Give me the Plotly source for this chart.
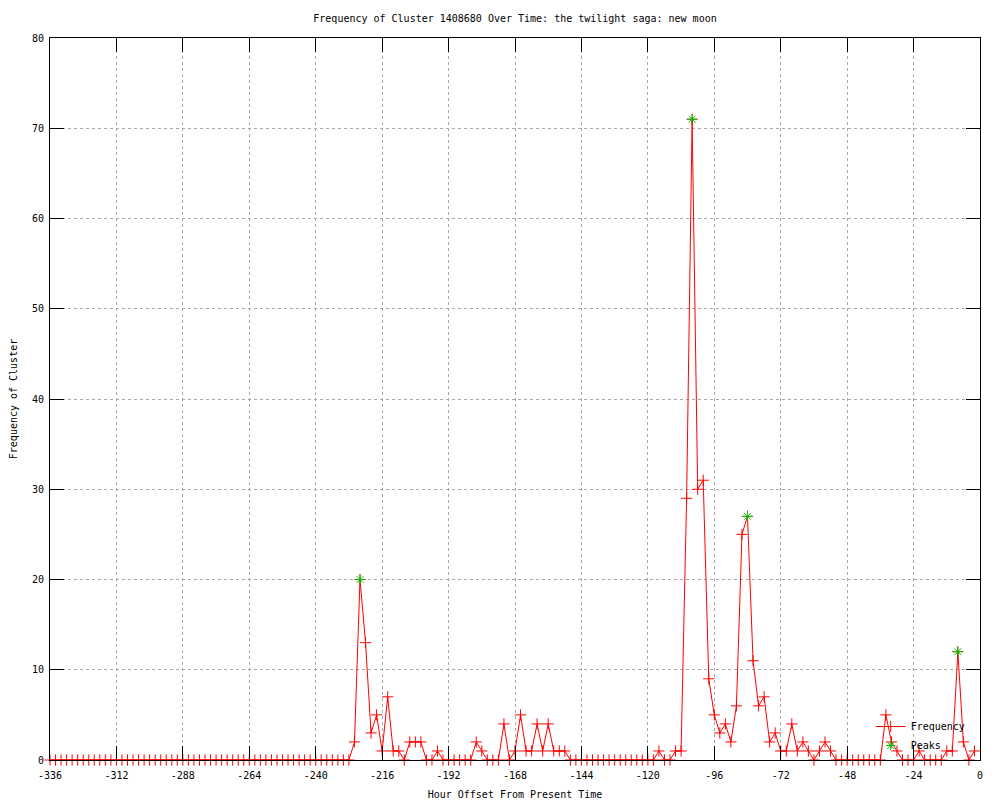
import plotly.graph_objects as go

# ---- data ----
hours = list(range(-336, 0, 2))  # 2-hour bins, -336 .. -2

freq = (
    [0] * 55                                   # -336 .. -228
    + [2, 20, 13, 3, 5, 1, 7, 1, 1, 0,         # -226 .. -208
       2, 2, 2, 0, 0, 1, 0, 0, 0, 0,           # -206 .. -188
       0, 0, 2, 1, 0, 0, 0, 4, 0, 1,           # -186 .. -168
       5, 1, 1, 4, 1, 4, 1, 1, 1]              # -166 .. -150
    + [0] * 16                                 # -148 .. -118
    + [1, 0, 0, 1, 1, 29, 71, 30, 31, 9,       # -116 .. -98
       5, 3, 4, 2, 6, 25, 27, 11, 6, 7,        # -96 .. -78
       2, 3, 1, 1, 4, 1, 2, 1, 0, 1,           # -76 .. -58
       2, 1]                                   # -56 .. -54
    + [0] * 9                                  # -52 .. -36
    + [5, 2, 1, 0, 0, 0, 1, 0, 0, 0,           # -34 .. -16
       0, 1, 1, 12, 2, 0, 1]                   # -14 .. -2
)

peak_hours = [-224, -104, -84, -8]
peak_freq = [20, 71, 27, 12]

x_ticks = list(range(-336, 1, 24))
y_ticks = list(range(0, 81, 10))

FONT = "DejaVu Sans Mono"

fig = go.Figure()
fig.add_trace(go.Scatter(
    x=hours, y=freq, mode="lines+markers", name="Frequency",
    line=dict(color="#ff0000", width=1),
    marker=dict(symbol="cross-thin-open", size=8, color="#ff0000",
                line=dict(width=1, color="#ff0000")),
    cliponaxis=False,
))
fig.add_trace(go.Scatter(
    x=peak_hours, y=peak_freq, mode="markers", name="Peaks",
    marker=dict(symbol="asterisk-open", size=8, color="#00c000",
                line=dict(width=1, color="#00c000")),
    cliponaxis=False,
))

fig.update_layout(
    width=1000, height=800,
    margin=dict(l=50, r=20, t=38, b=40),
    paper_bgcolor="white", plot_bgcolor="white",
    font=dict(family=FONT, size=10, color="black"),
    title=dict(text="Frequency of Cluster 1408680 Over Time: the twilight saga: new moon",
               x=0.515, xanchor="center", y=1 - 18 / 800, yanchor="middle",
               font=dict(family=FONT, size=10, color="black")),
    showlegend=True,
    legend=dict(x=0.99, y=0.0, xanchor="right", yanchor="bottom",
                bgcolor="rgba(0,0,0,0)", font=dict(family=FONT, size=10),
                tracegroupgap=0, itemwidth=30),
)
axis_common = dict(
    ticks="inside", ticklen=14, tickcolor="black", tickwidth=1,
    showline=True, linecolor="black", linewidth=1, mirror="ticks",
    showgrid=True, gridcolor="#a8a8a8", griddash="dot", gridwidth=1,
    zeroline=False, automargin=False,
    tickfont=dict(family=FONT, size=10, color="black"),
)
fig.update_xaxes(range=[-336, 0], tickvals=x_ticks, ticktext=[str(v) for v in x_ticks],
                 ticklabelstandoff=6,
                 title=dict(text="Hour Offset From Present Time", standoff=11,
                            font=dict(family=FONT, size=10)),
                 **axis_common)
fig.update_yaxes(range=[0, 80], tickvals=y_ticks, ticktext=[str(v) for v in y_ticks],
                 ticklabelstandoff=3,
                 title=dict(text="Frequency of Cluster", standoff=12,
                            font=dict(family=FONT, size=10)),
                 **axis_common)

fig.write_html("out.html", config={"displayModeBar": False},
               post_script="document.body.style.margin='0';")
